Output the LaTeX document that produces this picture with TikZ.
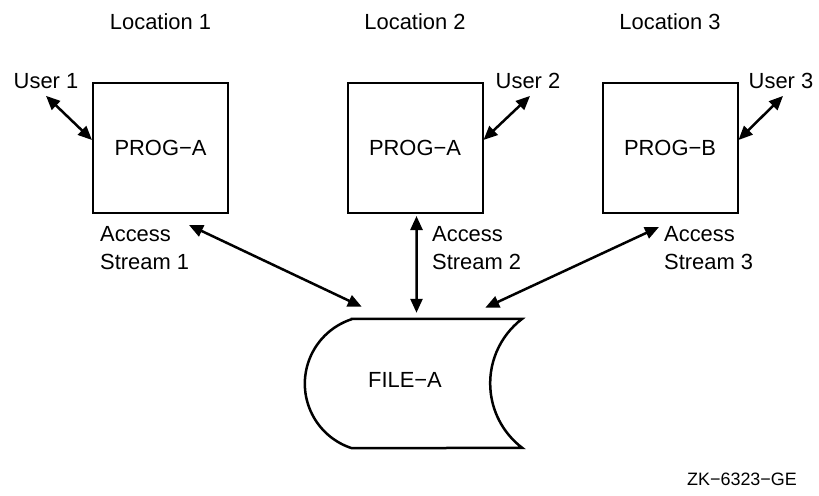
\documentclass[tikz,border=0pt]{standalone}
\usepackage{fontspec}
\setmainfont{Liberation Sans}
\usepackage{tikz}
\usetikzlibrary{arrows.meta}
\usetikzlibrary{calc}

\begin{document}
\begin{tikzpicture}[x=1bp, y=-1bp, font=\fontsize{22}{28}\selectfont,
progbox/.style={draw, line width=2bp, minimum width=135bp, minimum height=130bp, inner sep=0pt},
dbl/.style={line width=2.5bp, {Triangle[length=14bp,width=12bp]}-{Triangle[length=14bp,width=12bp]}}]
\useasboundingbox (0,0) rectangle (819,496);
\foreach \n/\x/\prog/\ux/\ax in {1/160.5/A/46/100, 2/415/A/528/432, 3/670/B/781/664}{
\node (loc\n) at (\x,22) {Location \n};
\node[progbox] (box\n) at (\x,148) {PROG−\prog};
\node[inner sep=7bp] (user\n) at (\ux,81) {User \n};
\node[anchor=west, align=left, inner sep=0pt] (acc\n) at (\ax,248) {Access\\Stream \n};
}
\node[minimum width=170bp, minimum height=129bp, inner sep=0pt] (file) at (437,383.5) {};
\draw[line width=2.5bp] (file.north west) -- (file.north east) arc[start angle=127.2, end angle=232.8, radius=81bp] -- (file.south west) arc[start angle=252.1, end angle=107.9, radius=67.8bp] -- cycle;
\node (filea) at (405,380) {FILE−A};
\draw[dbl] (user1.south) -- ([yshift=8bp]box1.west);
\foreach \n in {2,3}{
\draw[dbl] ([xshift=2bp]user\n.south) -- ([yshift=8bp]box\n.east);
}
\draw[dbl] ([shift={(28.5,11)}]box1.south) -- ([shift={(10,-12)}]file.north west);
\draw[dbl] ([shift={(1.5,2)}]box2.south) -- ([shift={(-20.5,-6)}]file.north);
\draw[dbl] ([shift={(-11,13)}]box3.south) -- ([shift={(-37,-11)}]file.north east);
\node[font=\fontsize{18}{20}\selectfont] (fig) at (742,479) {ZK−6323−GE};
\end{tikzpicture}
\end{document}
